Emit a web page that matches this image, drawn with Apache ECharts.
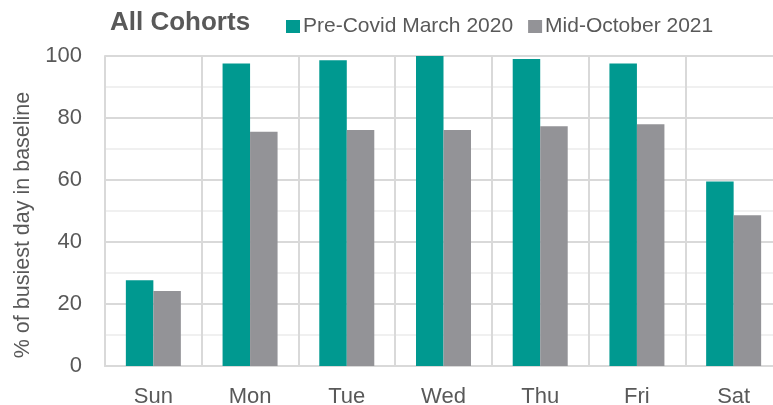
<!DOCTYPE html>
<html lang="en">
<head>
  <meta charset="UTF-8">
  <title>All Cohorts</title>
  <style>
    #container, html, body {
      margin: 0;
      padding: 0;
      height: 100%;
      width: 100%;
      background: #fff;
    }
  </style>
</head>
<body>
  <div id="container"></div>
</body>
<script src="https://cdn.jsdelivr.net/npm/echarts@6/dist/echarts.min.js"></script>
<script>
  var days = ['Sun', 'Mon', 'Tue', 'Wed', 'Thu', 'Fri', 'Sat']
  var preCovid = [27.7, 97.6, 98.6, 100, 99, 97.6, 59.5]
  var midOct = [24.2, 75.6, 76.1, 76.1, 77.3, 78, 48.6]
  var yTicks = [0, 20, 40, 60, 80, 100]

  var textColor = '#595959'
  var font = 'Liberation Sans, Arial, sans-serif'

  window.onload = function () {
    var charts = echarts.init(document.querySelector('#container'))
    var option = {
      animation: false,
      title: {
        text: 'All Cohorts',
        left: 105,
        top: 5,
        textStyle: {color: textColor, fontSize: 26, fontWeight: 'bold', fontFamily: font}
      },
      legend: {
        left: 281,
        top: 11,
        itemWidth: 14,
        itemHeight: 13,
        itemGap: 15,
        icon: 'rect',
        textStyle: {color: textColor, fontSize: 21, fontFamily: font, padding: [0, 0, 0, -2]},
        data: ['Pre-Covid March 2020', 'Mid-October 2021']
      },
      // plot runs past the right edge of the window, like the original
      grid: {left: 105, width: 677, top: 56, bottom: 39, outerBoundsMode: 'none'},
      xAxis: {
        type: 'category',
        data: days,
        axisLine: {lineStyle: {color: '#d9d9d9', width: 2}},
        axisTick: {show: false},
        axisLabel: {color: textColor, fontSize: 22, fontFamily: font, margin: 20},
        splitLine: {show: true, interval: 0, lineStyle: {color: '#d9d9d9', width: 2}}
      },
      yAxis: {
        type: 'value',
        min: yTicks[0],
        max: yTicks[yTicks.length - 1],
        interval: 20,
        name: '% of busiest day in baseline',
        nameLocation: 'middle',
        nameGap: 58,
        nameTextStyle: {color: textColor, fontSize: 21.5, fontFamily: font, padding: [0, 28, 0, 0]},
        axisLine: {show: true, lineStyle: {color: '#d9d9d9', width: 2}},
        axisTick: {show: false},
        axisLabel: {color: textColor, fontSize: 22, fontFamily: font, margin: 23},
        splitLine: {lineStyle: {color: '#d9d9d9', width: 2}},
        minorTick: {show: false, splitNumber: 2},
        minorSplitLine: {show: true, lineStyle: {color: '#f0f0f0', width: 2}}
      },
      series: [
        {
          name: 'Pre-Covid March 2020',
          type: 'bar',
          data: preCovid,
          barWidth: 27.5,
          barGap: '0%',
          itemStyle: {color: '#009990'}
        },
        {
          name: 'Mid-October 2021',
          type: 'bar',
          data: midOct,
          barWidth: 27.5,
          itemStyle: {color: '#939397'}
        }
      ]
    }
    charts.setOption(option)
    window.onresize = charts.resize
  }
</script>
</html>
